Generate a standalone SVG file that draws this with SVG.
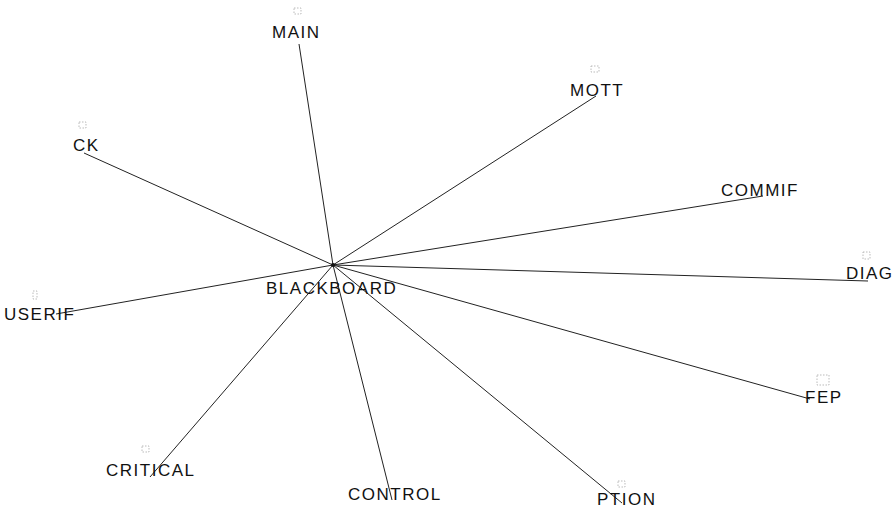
<svg xmlns="http://www.w3.org/2000/svg" width="895" height="508" viewBox="0 0 895 508">
<style>
.bg{fill:#ffffff}
.edge{stroke:#222;stroke-width:1;fill:none}
.lbl{font-family:"Liberation Sans",Arial,sans-serif;font-size:17px;letter-spacing:1.5px;fill:#111}
.mk{fill:none;stroke:#aaa;stroke-width:0.8;stroke-dasharray:1.5 1.5}
</style>
<rect class="bg" x="0" y="0" width="895" height="508"/>
<g id="connectors">
<line class="edge" x1="333" y1="265" x2="299" y2="44"/>
<line class="edge" x1="333" y1="265" x2="596" y2="96"/>
<line class="edge" x1="333" y1="265" x2="84" y2="153"/>
<line class="edge" x1="333" y1="265" x2="763" y2="196"/>
<line class="edge" x1="333" y1="265" x2="868" y2="281"/>
<line class="edge" x1="333" y1="265" x2="56" y2="314"/>
<line class="edge" x1="333" y1="265" x2="810" y2="399"/>
<line class="edge" x1="333" y1="265" x2="150" y2="477"/>
<line class="edge" x1="333" y1="265" x2="392" y2="500"/>
<line class="edge" x1="333" y1="265" x2="622" y2="503"/>
</g>
<g id="node-blackboard"><circle cx="333" cy="265" r="2" fill="#111"/><text class="lbl" x="266" y="294">BLACKBOARD</text></g>
<g id="node-main"><rect class="mk" x="294" y="8" width="7" height="6"/><text class="lbl" x="272" y="38">MAIN</text></g>
<g id="node-mott"><rect class="mk" x="591" y="66" width="8" height="6"/><text class="lbl" x="570" y="96">MOTT</text></g>
<g id="node-ck"><rect class="mk" x="79" y="122" width="7" height="6"/><text class="lbl" x="73" y="151">CK</text></g>
<g id="node-commif"><text class="lbl" x="721" y="196">COMMIF</text></g>
<g id="node-diag"><rect class="mk" x="863" y="252" width="7" height="7"/><text class="lbl" x="846" y="279">DIAG</text></g>
<g id="node-userif"><rect class="mk" x="33" y="291" width="4" height="8"/><text class="lbl" x="4" y="320">USERIF</text></g>
<g id="node-fep"><rect class="mk" x="817" y="375" width="12" height="10"/><text class="lbl" x="805" y="403">FEP</text></g>
<g id="node-critical"><rect class="mk" x="142" y="446" width="7" height="6"/><text class="lbl" x="106" y="476">CRITICAL</text></g>
<g id="node-control"><text class="lbl" x="348" y="500">CONTROL</text></g>
<g id="node-ption"><rect class="mk" x="618" y="481" width="7" height="6"/><text class="lbl" x="597" y="505">PTION</text></g>
</svg>
